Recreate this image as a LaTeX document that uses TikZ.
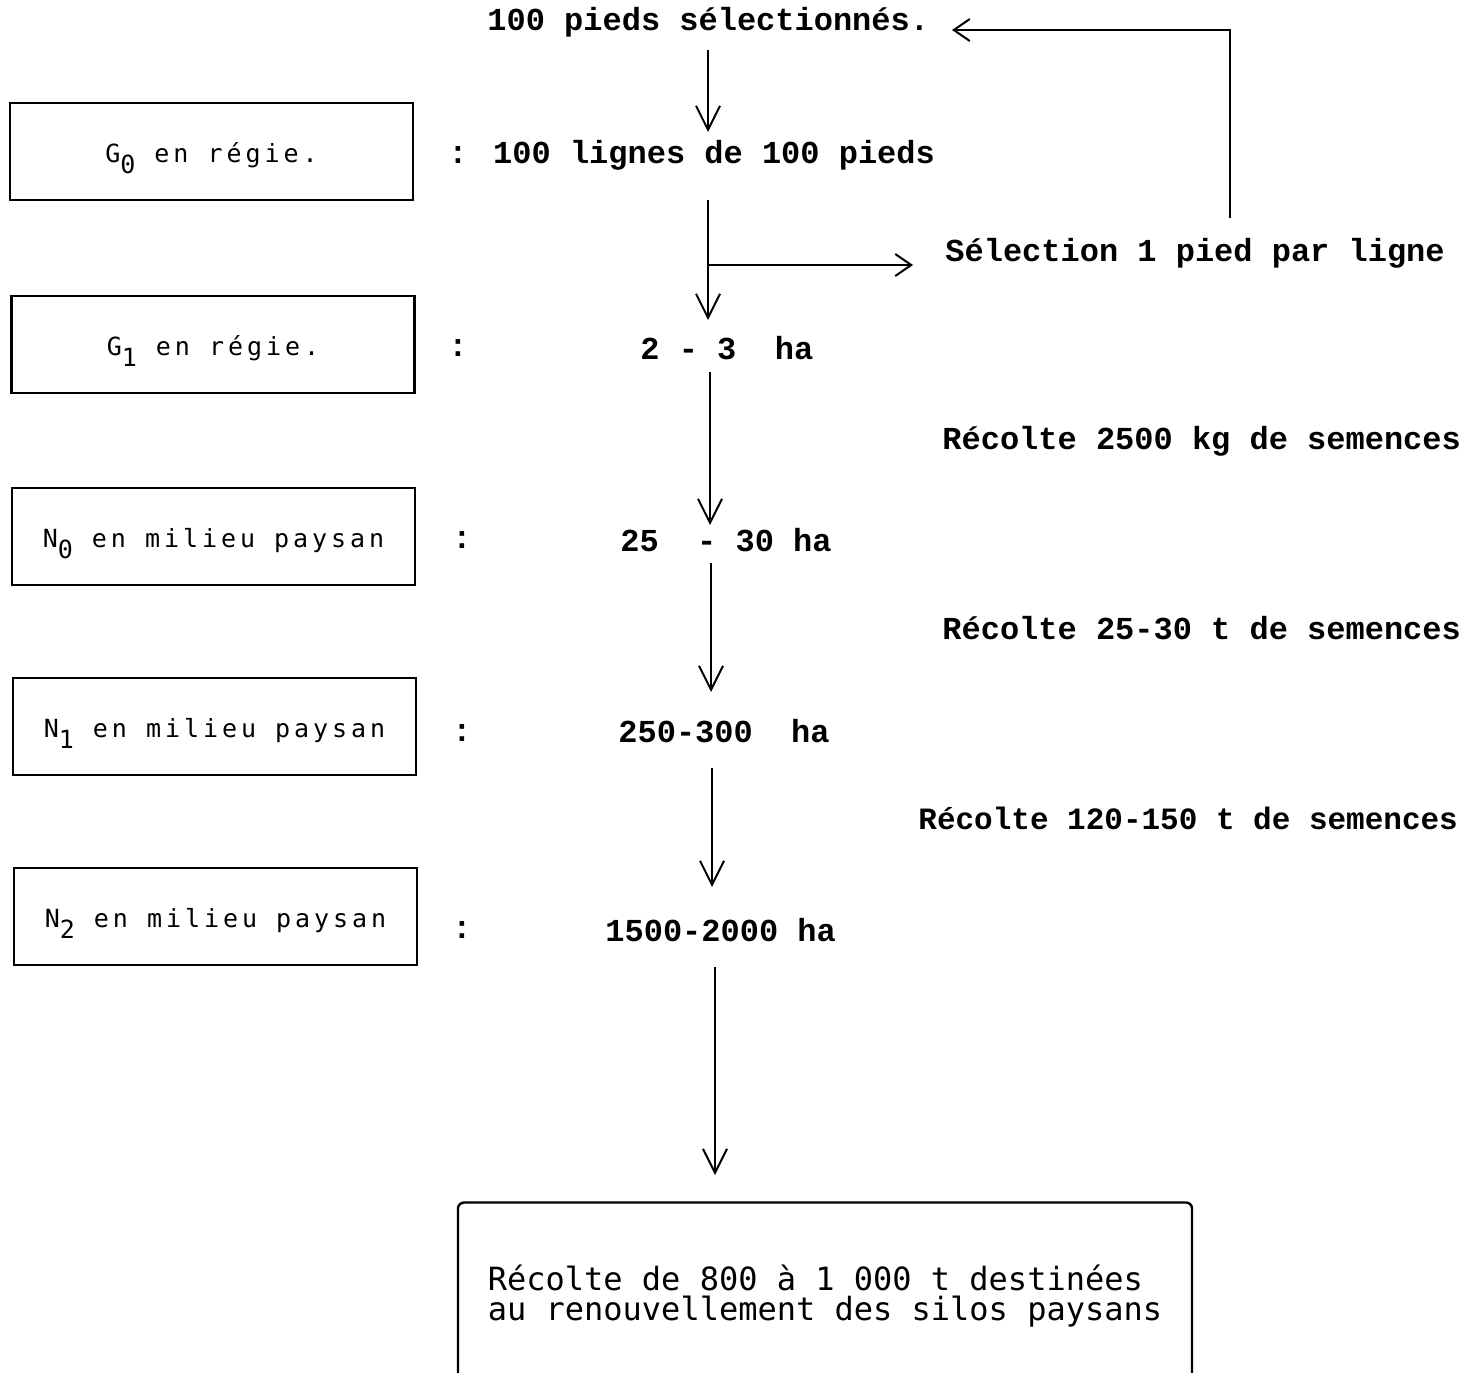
\documentclass[tikz,border=0pt]{standalone}
\usepackage{fontspec}
\usetikzlibrary{arrows.meta}
\newfontfamily\typew{Liberation Mono}
\newfontfamily\ocrb[LetterSpace=15.8]{DejaVu Sans Mono}
\newfontfamily\ocrwide{DejaVu Sans Mono}
\newcommand{\lowdigit}[1]{\smash{\raisebox{-0.45em}{#1}}}
\tikzset{
    stage/.style={draw, line width=1.2pt, minimum width=201.5pt, minimum height=48.5pt,
        text height=1.2em, text depth=0.1em, font=\ocrb\fontsize{12.5}{15}\selectfont},
    typed/.style={anchor=west, inner sep=0pt, font=\typew\bfseries\fontsize{16}{18}\selectfont},
    colon/.style={inner sep=0pt, font=\typew\bfseries\fontsize{16}{18}\selectfont},
    flow/.style={-{Straight Barb[length=12pt,width=12pt]}, line width=1pt},
    back/.style={-{Straight Barb[length=8pt,width=11pt]}, line width=1pt},
}
\begin{document}
\begin{tikzpicture}[x=0.5pt, y=-0.5pt]
        \useasboundingbox (0,0) rectangle (1465,1372);
        \clip (0,0) rectangle (1465,1372);
        \node[stage] (g0) at (211.5,151.5) {G\lowdigit{0} en régie.};
        \node[stage] (g1) at (213,344.5) {G\lowdigit{1} en régie.};
        \node[stage] (n0) at (213.5,536.5) {N\lowdigit{0} en milieu paysan};
        \node[stage] (n1) at (214.5,726.5) {N\lowdigit{1} en milieu paysan};
        \node[stage] (n2) at (215.5,916.5) {N\lowdigit{2} en milieu paysan};

        \node[colon] (c1) at (458,348) {:};
        \node[colon] (c2) at (462,540) {:};
        \node[colon] (c3) at (462,733) {:};
        \node[colon] (c4) at (462,930) {:};

        \node[typed] (p0) at (487,22) {100 pieds sélectionnés.};
        \node[typed] (p1) at (448,155) {: 100 lignes de 100 pieds};
        \node[typed] (p2) at (640,348) {2 - 3~~ha};
        \node[typed] (p3) at (620,540) {25~~- 30 ha};
        \node[typed] (p4) at (618,731) {250-300~~ha};
        \node[typed] (p5) at (605,930) {1500-2000 ha};

        \node[typed] (s1) at (945,253) {Sélection 1 pied par ligne};
        \node[typed] (r1) at (942,441) {Récolte 2500 kg de semences};
        \node[typed] (r2) at (942,628) {Récolte 25-30 t de semences};
        \node[typed, font=\typew\bfseries\fontsize{15.5}{18}\selectfont] (r3) at (918,818) {Récolte 120-150 t de semences};

        \node[draw, line width=1.2pt, rounded corners=3pt, minimum width=367pt, minimum height=93.5pt,
            align=left, font=\ocrwide\fontsize{16}{15}\selectfont] (silos) at (825,1296)
            {Récolte de 800 à 1 000 t destinées\\au renouvellement des silos paysans};

        \coordinate (a1) at (708,50);
        \coordinate (b1) at (708,132);
        \coordinate (a2) at (708,200);
        \coordinate (b2) at (708,320);
        \coordinate (a3) at (710,372);
        \coordinate (b3) at (710,525);
        \coordinate (a4) at (711,563);
        \coordinate (b4) at (711,692);
        \coordinate (a5) at (712,768);
        \coordinate (b5) at (712,887);
        \coordinate (a6) at (715,967);
        \coordinate (b6) at (715,1175);
        \coordinate (br) at (708,265);
        \coordinate (brend) at (913,265);
        \coordinate (fb) at (1230,218);
        \coordinate (fbend) at (952,30);

        \path[draw,flow] (a1) -- (b1);
        \path[draw,flow] (a2) -- (b2);
        \path[draw,flow] (a3) -- (b3);
        \path[draw,flow] (a4) -- (b4);
        \path[draw,flow] (a5) -- (b5);
        \path[draw,flow] (a6) -- (b6);
        \path[draw,back] (br) -- (brend);
        \path[draw,back] (fb) |- (fbend);
    \end{tikzpicture}
\end{document}
